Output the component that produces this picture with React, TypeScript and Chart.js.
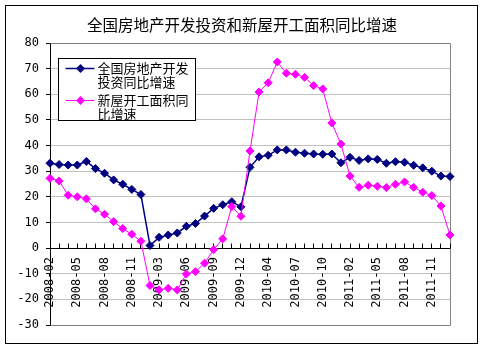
import React, { useEffect, useRef } from 'react';
import { Chart, registerables } from 'chart.js';

Chart.register(...registerables);

const titleText = '全国房地产开发投资和新屋开工面积同比增速';

const categories = [
  '2008-02', '2008-03', '2008-04', '2008-05', '2008-06', '2008-07', '2008-08', '2008-09', '2008-10', '2008-11', '2008-12',
  '2009-02', '2009-03', '2009-04', '2009-05', '2009-06', '2009-07', '2009-08', '2009-09', '2009-10', '2009-11', '2009-12',
  '2010-02', '2010-03', '2010-04', '2010-05', '2010-06', '2010-07', '2010-08', '2010-09', '2010-10', '2010-11', '2010-12',
  '2011-02', '2011-03', '2011-04', '2011-05', '2011-06', '2011-07', '2011-08', '2011-09', '2011-10', '2011-11', '2011-12',
  '2012-02',
];

const investmentLabel = '全国房地产开发投资同比增速';
const investmentLegendLines = ['全国房地产开发', '投资同比增速'];
const investment = [
  33.1, 32.6, 32.4, 32.4, 33.8, 31.0, 29.2, 26.6, 24.9, 22.9, 20.9,
  1.0, 4.2, 5.1, 5.9, 8.5, 9.6, 12.5, 15.5, 16.9, 18.1, 16.1,
  31.5, 35.6, 36.2, 38.3, 38.3, 37.4, 37.0, 36.7, 36.6, 36.7, 33.3,
  35.4, 34.2, 34.8, 34.6, 33.1, 33.7, 33.5, 32.3, 31.3, 30.0, 28.1,
  27.9,
];

const startsLabel = '新屋开工面积同比增速';
const startsLegendLines = ['新屋开工面积同', '比增速'];
const newStarts = [
  27.2, 26.2, 20.6, 20.0, 19.2, 15.3, 13.2, 10.3, 7.6, 5.4, 2.7,
  -14.6, -16.3, -15.7, -16.3, -10.1, -9.2, -5.9, -0.6, 3.6, 16.2, 12.4,
  37.9, 60.9, 64.5, 72.6, 68.2, 67.8, 66.6, 63.4, 62.1, 48.8, 40.6,
  28.1, 23.7, 24.5, 24.1, 23.6, 24.9, 25.8, 23.7, 21.8, 20.5, 16.4,
  5.1,
];

const yMin = -30;
const yMax = 80;
const yStep = 10;
const labelEvery = 3;

const mono = "'DejaVu Sans Mono', 'Liberation Mono', monospace";
const cjk = "'Noto Sans CJK SC', 'Noto Sans', sans-serif";

export default function App() {
  const ref = useRef<HTMLCanvasElement>(null);

  useEffect(() => {
    const canvas = ref.current;
    if (!canvas) return;

    const framePlugin = {
      id: 'outerFrame',
      beforeDraw(chart: any) {
        const ctx = chart.ctx;
        ctx.save();
        ctx.fillStyle = '#ffffff';
        ctx.fillRect(0, 0, chart.width, chart.height);
        ctx.strokeStyle = '#000000';
        ctx.lineWidth = 1;
        ctx.strokeRect(5.5, 5.5, chart.width - 12, chart.height - 12);
        ctx.fillStyle = '#000000';
        ctx.font = `15.5px ${cjk}`;
        ctx.textAlign = 'center';
        ctx.textBaseline = 'middle';
        ctx.fillText(titleText, chart.width / 2, 25);
        ctx.restore();
      },
    };

    const plotBorderPlugin = {
      id: 'plotBorder',
      beforeDatasetsDraw(chart: any) {
        const ctx = chart.ctx;
        const xs = chart.scales.x;
        const ys = chart.scales.y;
        const a = (v: number) => Math.floor(v) + 0.5;
        const left = a(xs.getPixelForValue(0));
        const right = a(xs.getPixelForValue(categories.length - 1));
        const top = a(ys.getPixelForValue(yMax));
        const bottom = a(ys.getPixelForValue(yMin));
        const zero = a(ys.getPixelForValue(0));
        ctx.save();
        ctx.strokeStyle = '#808080';
        ctx.lineWidth = 1;
        ctx.beginPath();
        ctx.moveTo(left, top);
        ctx.lineTo(right, top);
        ctx.lineTo(right, bottom);
        ctx.lineTo(left, bottom);
        ctx.stroke();
        ctx.strokeStyle = '#000000';
        ctx.beginPath();
        for (let i = 0; i < categories.length; i++) {
          const x = a(xs.getPixelForValue(i));
          ctx.moveTo(x, zero);
          ctx.lineTo(x, zero - 5);
        }
        ctx.stroke();
        ctx.restore();
      },
    };

    const legendPlugin = {
      id: 'boxLegend',
      afterDatasetsDraw(chart: any) {
        const ctx = chart.ctx;
        const ca = chart.chartArea;
        const bx = Math.round(ca.left) + 8.5;
        const by = Math.round(ca.top) + 15.5;
        const bw = 137;
        const bh = 62;
        ctx.save();
        ctx.fillStyle = '#ffffff';
        ctx.fillRect(bx, by, bw, bh);
        ctx.strokeStyle = '#000000';
        ctx.lineWidth = 1;
        ctx.strokeRect(bx, by, bw, bh);
        ctx.font = `13px ${cjk}`;
        ctx.textBaseline = 'middle';
        ctx.textAlign = 'left';
        const entries = [
          { lines: investmentLegendLines, ds: 0, dy: 9 },
          { lines: startsLegendLines, ds: 1, dy: 41 },
        ];
        entries.forEach((e) => {
          const ds = chart.data.datasets[e.ds];
          const ly = Math.round(by + e.dy) + 0.5;
          ctx.strokeStyle = ds.borderColor;
          ctx.lineWidth = ds.borderWidth;
          ctx.beginPath();
          ctx.moveTo(bx + 7, ly);
          ctx.lineTo(bx + 36, ly);
          ctx.stroke();
          const cx = bx + 22;
          ctx.fillStyle = ds.borderColor;
          ctx.beginPath();
          ctx.moveTo(cx, ly - 4.5);
          ctx.lineTo(cx + 4.5, ly);
          ctx.lineTo(cx, ly + 4.5);
          ctx.lineTo(cx - 4.5, ly);
          ctx.closePath();
          ctx.fill();
          ctx.fillStyle = '#000000';
          e.lines.forEach((t, k) => ctx.fillText(t, bx + 39, ly + k * 13.5));
        });
        ctx.restore();
      },
    };

    const chart = new Chart(canvas, {
      type: 'line',
      data: {
        labels: categories,
        datasets: [
          {
            label: investmentLabel,
            data: investment,
            borderColor: '#000080',
            backgroundColor: '#000080',
            borderWidth: 1.5,
            pointStyle: 'rectRot',
            pointRadius: 4,
            pointBorderWidth: 1,
            pointBackgroundColor: '#000080',
            pointBorderColor: '#000080',
            tension: 0,
            order: 1,
          },
          {
            label: startsLabel,
            data: newStarts,
            borderColor: '#FF00FF',
            backgroundColor: '#FF00FF',
            borderWidth: 1,
            pointStyle: 'rectRot',
            pointRadius: 4,
            pointBorderWidth: 1,
            pointBackgroundColor: '#FF00FF',
            pointBorderColor: '#FF00FF',
            tension: 0,
            order: 0,
          },
        ],
      },
      options: {
        responsive: false,
        animation: false,
        devicePixelRatio: 1,
        events: [],
        layout: { padding: { left: 0, right: 34, top: 43, bottom: 25 } },
        plugins: {
          legend: { display: false },
          tooltip: { enabled: false },
          title: { display: false },
        },
        scales: {
          x: {
            type: 'category',
            position: { y: 0 } as any,
            offset: false,
            grid: { display: true, drawOnChartArea: false, drawTicks: false },
            border: { display: true, color: '#000000', width: 1 },
            ticks: {
              autoSkip: false,
              maxRotation: 90,
              minRotation: 90,
              padding: 9,
              color: '#000000',
              font: { family: mono, size: 12 },
              callback: (_v: any, idx: number) => (idx % labelEvery === 0 ? categories[idx] : ''),
            },
          },
          y: {
            min: yMin,
            max: yMax,
            ticks: {
              stepSize: yStep,
              padding: 7,
              color: '#000000',
              font: { family: mono, size: 12 },
            },
            grid: {
              color: (c: any) => (c.tick && c.tick.value === 0 ? 'rgba(0,0,0,0)' : '#C0C0C0'),
              tickColor: '#000000',
              tickLength: 4,
              drawTicks: true,
            },
            border: { display: true, color: '#000000', width: 1 },
            afterFit: (s: any) => {
              s.width = 50;
            },
          },
        },
      },
      plugins: [framePlugin, plotBorderPlugin, legendPlugin],
    });

    return () => chart.destroy();
  }, []);

  return (
    <div style={{ position: 'absolute', left: 0, top: 0, width: 484, height: 350 }}>
      <canvas ref={ref} width={484} height={350} style={{ display: 'block' }} />
    </div>
  );
}
